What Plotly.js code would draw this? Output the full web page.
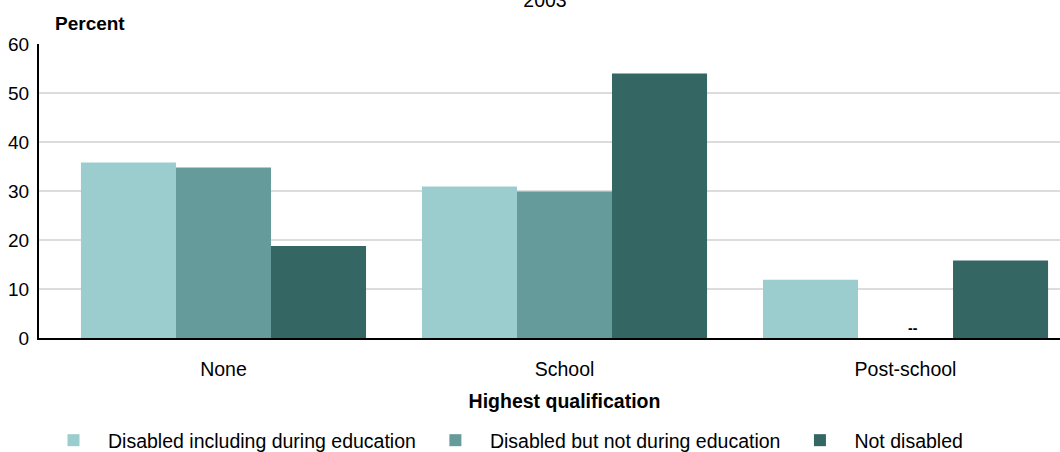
<!DOCTYPE html>
<html>
<head>
<meta charset="utf-8">
<script src="https://cdn.plot.ly/plotly-3.0.1.min.js"></script>
<style>
html,body{margin:0;padding:0;overflow:hidden;background:#fff;}
#chart{width:1090px;height:460px;}
</style>
</head>
<body>
<div id="chart"></div>
<script>
var categories = ["None", "School", "Post-school"];
var seriesNames = ["Disabled including during education", "Disabled but not during education", "Not disabled"];
var disabledIncl = [35.8, 30.9, 11.9];
var disabledNotDuring = [34.8, 29.9, null];
var notDisabled = [18.8, 54.0, 15.8];
var seriesColors = ["#9ccdce", "#659b9a", "#346664"];
var yTicks = [0, 10, 20, 30, 40, 50, 60];
var chartTitle = "2003";
var yTitle = "Percent";
var xTitle = "Highest qualification";
var missingLabel = "--";
var missingCategory = "Post-school";

var FONT = "Liberation Sans, Arial, sans-serif";
var seriesValues = [disabledIncl, disabledNotDuring, notDisabled];
var traces = seriesValues.map(function (vals, i) {
  return {
    type: "bar",
    name: seriesNames[i],
    x: categories,
    y: vals,
    marker: {color: seriesColors[i], line: {width: 0}},
    hoverinfo: "x+y+name"
  };
});

var layout = {
  width: 1090,
  height: 460,
  margin: {l: 39, r: 0, t: 44, b: 122},
  paper_bgcolor: "#fff",
  plot_bgcolor: "#fff",
  font: {family: FONT, size: 19.5, color: "#000"},
  barmode: "group",
  bargap: 0.164,
  bargroupgap: 0,
  title: {
    text: chartTitle,
    font: {family: FONT, size: 19.5, color: "#000"},
    x: 0.5, xref: "container", xanchor: "center",
    y: 1, yref: "container", yanchor: "middle"
  },
  xaxis: {
    type: "category",
    range: [-0.541, 2.541],
    showgrid: false,
    showline: true,
    linecolor: "#000",
    linewidth: 2,
    ticks: "",
    ticklabelstandoff: 13,
    tickfont: {family: FONT, size: 19.5, color: "#000"},
    title: {text: "<b>" + xTitle + "</b>", font: {family: FONT, size: 19.5, color: "#000"}, standoff: 15},
    fixedrange: true
  },
  yaxis: {
    range: [0, 60],
    tickvals: yTicks,
    ticktext: yTicks.map(String),
    showgrid: true,
    gridcolor: "#dcdcdc",
    gridwidth: 1.5,
    zeroline: false,
    showline: true,
    mirror: true,
    linecolor: "#000",
    linewidth: 2,
    ticks: "",
    ticklabelstandoff: 4,
    tickfont: {family: FONT, size: 19, color: "#000"},
    fixedrange: true
  },
  showlegend: true,
  legend: {
    orientation: "h",
    x: 0, xanchor: "left", xref: "paper",
    y: 0, yanchor: "bottom", yref: "container",
    itemwidth: 59,
    font: {family: FONT, size: 19.5, color: "#000"},
    traceorder: "normal"
  },
  annotations: [
    {
      text: "<b>" + yTitle + "</b>",
      xref: "paper", yref: "paper",
      x: 0, y: 1, xanchor: "left", yanchor: "middle",
      xshift: 14, yshift: 21,
      showarrow: false,
      font: {family: FONT, size: 19, color: "#000"}
    },
    {
      text: "<b>" + missingLabel + "</b>",
      xref: "x", yref: "y",
      x: missingCategory, y: 0,
      xanchor: "center", yanchor: "bottom",
      xshift: 7,
      showarrow: false,
      font: {family: FONT, size: 14, color: "#000"}
    }
  ]
};

Plotly.newPlot("chart", traces, layout, {displayModeBar: false});
</script>
</body>
</html>
